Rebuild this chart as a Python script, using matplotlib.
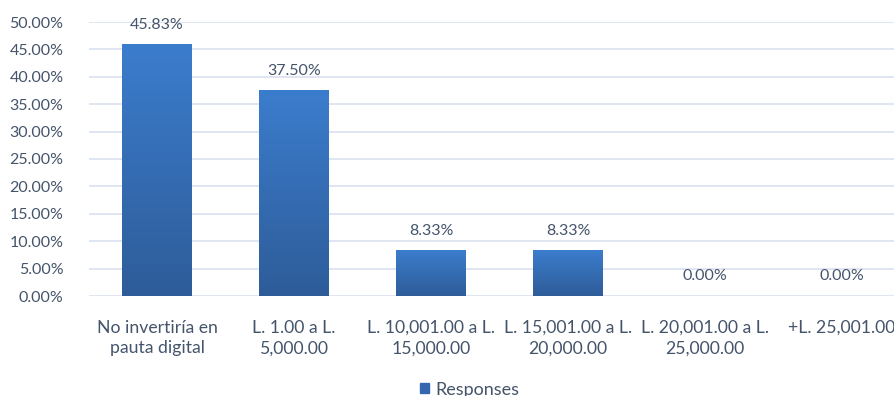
import numpy as np
import matplotlib.pyplot as plt
from matplotlib.colors import LinearSegmentedColormap
from matplotlib.ticker import FuncFormatter

plt.rcParams['font.family'] = ['Lato', 'DejaVu Sans']

categories = ["No invertiría en\npauta digital", "L. 1.00 a L.\n5,000.00",
              "L. 10,001.00 a L.\n15,000.00", "L. 15,001.00 a L.\n20,000.00",
              "L. 20,001.00 a L.\n25,000.00", "+L. 25,001.00"]
responses = [45.83, 37.50, 8.33, 8.33, 0.00, 0.00]

TEXT = "#44546a"
GRID = "#d9e2ef"
grad = LinearSegmentedColormap.from_list("bar", ["#2e5c99", "#3b7dcd"])

fig = plt.figure(figsize=(8.94, 3.96), dpi=100)
ax = fig.add_axes([88.5 / 894, 100 / 396, 822 / 894, 274 / 396])

x = np.arange(len(categories))
bars = ax.bar(x, responses, width=0.51, color="none", zorder=3, label="Responses")

# vertical gradient fill for each bar
g = np.linspace(0, 1, 256).reshape(-1, 1)
for b in bars:
    h = b.get_height()
    if h <= 0:
        continue
    ax.imshow(g, cmap=grad, origin="lower", aspect="auto", zorder=3,
              extent=[b.get_x(), b.get_x() + b.get_width(), 0, h])

for xi, v in zip(x, responses):
    ax.text(xi, v + 2.3, f"{v:.2f}%", ha="center", va="bottom",
            fontsize=11.5, color=TEXT)

ax.set_xlim(-0.5, len(categories) - 0.5)
ax.set_ylim(0, 50)
ax.set_yticks(np.arange(0, 50.1, 5))
ax.yaxis.set_major_formatter(FuncFormatter(lambda v, _: f"{v:.2f}%"))
ax.set_xticks(x)
ax.set_xticklabels(categories, linespacing=1.35)
ax.tick_params(axis="both", length=0, labelcolor=TEXT)
ax.tick_params(axis="x", pad=17, labelsize=12.7)
ax.tick_params(axis="y", pad=18, labelsize=11.5)
ax.grid(axis="y", color=GRID, linewidth=1.2, zorder=0)
for s in ax.spines.values():
    s.set_visible(False)

handle = plt.Rectangle((0, 0), 1, 1, color="#3567ae")
fig.legend([handle], ["Responses"], loc="lower center", bbox_to_anchor=(0.525, -0.045),
           frameon=False, fontsize=13, labelcolor=TEXT, handlelength=0.5,
           handleheight=0.5, handletextpad=0.35)

fig.savefig("out.png", dpi=100)
